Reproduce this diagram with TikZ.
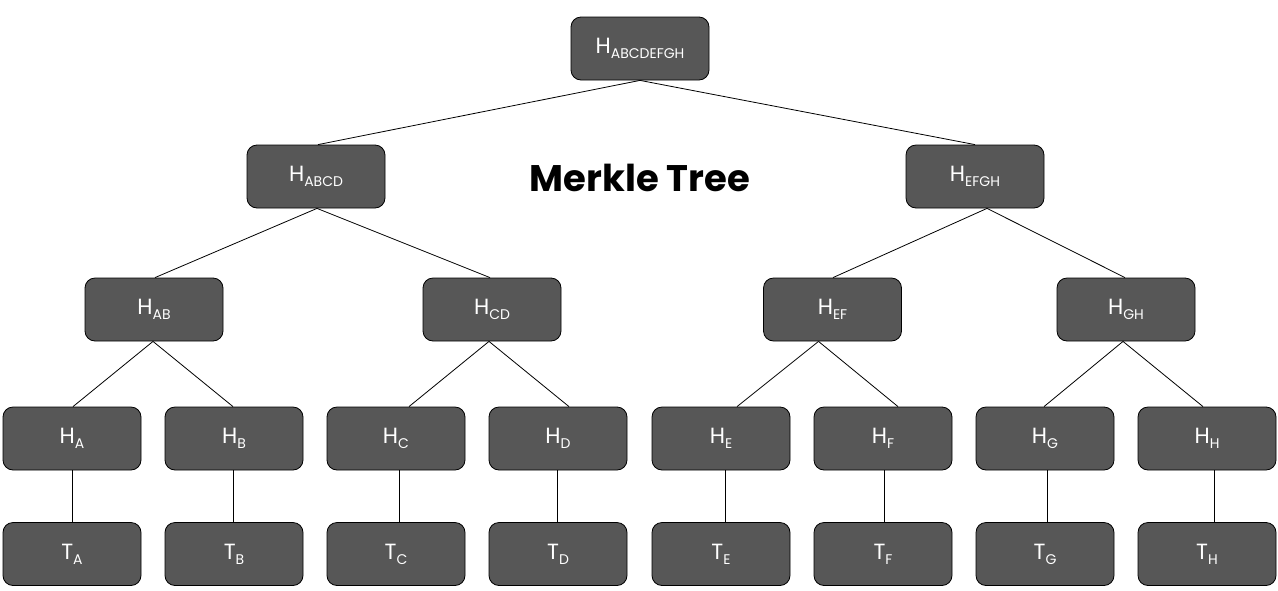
\documentclass[tikz,border=0pt]{standalone}
\usepackage{fontspec}
\setmainfont{Poppins}
\definecolor{boxfill}{HTML}{575757}
\newcommand{\hlab}[2]{{\fontsize{22}{22}\selectfont #1}\raisebox{-5pt}{\fontsize{14}{14}\selectfont #2}}
\begin{document}
\begin{tikzpicture}[x=1pt,y=-1pt,
  hbox/.style={draw=black, line width=0.8pt, fill=boxfill, rounded corners=10pt,
    minimum width=138pt, minimum height=63pt, inner sep=0pt, text=white, font=\fontsize{22}{22}\selectfont},
  edge/.style={draw=black, line width=0.8pt}]
\useasboundingbox (0,0) rectangle (1278,590);
\node[hbox] (r) at (640,48.5) {\hlab{H}{ABCDEFGH}};
\node[hbox] (abcd) at (316,176.5) {\hlab{H}{ABCD}};
\node[hbox] (efgh) at (975,176.5) {\hlab{H}{EFGH}};
\node[hbox] (ab) at (154,309.5) {\hlab{H}{AB}};
\node[hbox] (cd) at (492,309.5) {\hlab{H}{CD}};
\node[hbox] (ef) at (832.5,309.5) {\hlab{H}{EF}};
\node[hbox] (gh) at (1126,309.5) {\hlab{H}{GH}};
\foreach \n/\x/\s in {A/72/0.5,B/234/-0.5,C/396/3,D/558/-0.5,E/721/4,F/883/1.5,G/1045/2,H/1207/7}{
  \node[hbox] (h\n) at (\x,438.5) {\hlab{H}{\n}};
  \node[hbox] (t\n) at (\x,554) {\hlab{T}{\n}};
  \draw[edge] ([xshift=\s pt]h\n.south) -- ([xshift=\s pt]t\n.north);
}
\node[font=\fontsize{37}{37}\selectfont\bfseries] (title) at (640,178) {Merkle Tree};
\draw[edge] (r.south) -- ([xshift=2pt]abcd.north);
\draw[edge] (r.south) -- (efgh.north);
\draw[edge] ([xshift=1pt]abcd.south) -- ([xshift=1pt]ab.north);
\draw[edge] ([xshift=1pt]abcd.south) -- ([xshift=-2pt]cd.north);
\draw[edge] ([xshift=12pt]efgh.south) -- ([xshift=0.5pt]ef.north);
\draw[edge] ([xshift=12pt]efgh.south) -- ([xshift=-1pt]gh.north);
\draw[edge] ([xshift=-1pt]ab.south) -- ([xshift=1pt]hA.north);
\draw[edge] ([xshift=-1pt]ab.south) -- ([xshift=-1pt]hB.north);
\draw[edge] ([xshift=-3pt]cd.south) -- ([xshift=13pt]hC.north);
\draw[edge] ([xshift=-3pt]cd.south) -- ([xshift=11pt]hD.north);
\draw[edge] ([xshift=-14pt]ef.south) -- ([xshift=16pt]hE.north);
\draw[edge] ([xshift=-14pt]ef.south) -- ([xshift=15pt]hF.north);
\draw[edge] ([xshift=-3pt]gh.south) -- ([xshift=-1pt]hG.north);
\draw[edge] ([xshift=-3pt]gh.south) -- ([xshift=-4pt]hH.north);
\end{tikzpicture}
\end{document}
